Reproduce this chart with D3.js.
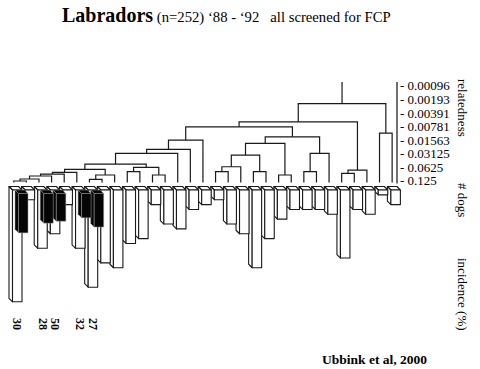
<!DOCTYPE html>
<html>
<head>
<meta charset="utf-8">
<script src="https://cdn.jsdelivr.net/npm/d3@7"></script>
<style>
body { margin: 0; background: #fff; }
svg { display: block; }
text { font-family: "Liberation Serif", "Times New Roman", serif; }
</style>
</head>
<body>
<svg id="chart" width="480" height="369"></svg>
<script>
// one entry per leaf of the tree, left to right
var dogs = [23, 2, 12, 9, 3, 12, 20, 15, 16, 11, 10, 3, 7, 8, 4, 3, 2, 7, 9, 16, 10, 6, 4, 4, 4, 5, 14, 4, 5, 1, 3];
var affected = [8.1, 0, 6.1, 5.7, 0, 5.0, 6.9, 0, 0, 0, 0, 0, 0, 0, 0, 0, 0, 0, 0, 0, 0, 0, 0, 0, 0, 0, 0, 0, 0, 0, 0];
var incidence = [30, null, 28, 50, null, 32, 27];

// tree merges: [left, right, relatedness]; negative = leaf number, positive = earlier merge row
var merges = [
    [-1, -2, 0.127],
    [1, -3, 0.1146],
    [2, -4, 0.0983],
    [3, -5, 0.0888],
    [4, -6, 0.0814],
    [-7, -8, 0.1164],
    [6, -9, 0.0934],
    [5, 7, 0.0698],
    [-10, -11, 0.0789],
    [-12, -13, 0.0934],
    [9, 10, 0.063],
    [8, 11, 0.0533],
    [12, -14, 0.0308],
    [13, -15, 0.0251],
    [14, -16, 0.0156],
    [-17, -18, 0.0789],
    [16, -19, 0.0611],
    [-20, -21, 0.0789],
    [17, 18, 0.0337],
    [-22, -23, 0.0934],
    [19, 20, 0.0185],
    [-24, -25, 0.0789],
    [22, -26, 0.0308],
    [21, 23, 0.0132],
    [15, 24, 0.0079],
    [-27, -28, 0.0856],
    [26, -29, 0.0724],
    [25, 27, 0.0061],
    [-30, -31, 0.0109],
    [28, 29, 0.0024]
];

var relTicks = [0.00096, 0.00193, 0.00391, 0.00781, 0.01563, 0.03125, 0.0625, 0.125];
var relLabels = ["0.00096", "0.00193", "0.00391", "0.00781", "0.01563", "0.03125", "0.0625", "0.125"];

var svg = d3.select("#chart");

var depth = 3.5, barW = 9.5, barTop = 186.5, leafBottom = 182.5;

var x = d3.scaleBand()
    .domain(d3.range(dogs.length))
    .range([7, 398]);

var rel = d3.scaleLog().base(2)
    .domain([0.00096, 0.125])
    .range([85.7, 180.7]);

var len = d3.scaleLinear()
    .domain([0, 25])
    .range([0, 121.5]);

function bx(i) { return x(i) + 2; }
function leafX(i) { return bx(i) + barW / 2; }

// title
var title = svg.append("text")
    .attr("x", 62).attr("y", 22)
    .attr("xml:space", "preserve");
title.append("tspan").attr("font-weight", "bold").attr("font-size", 20).text("Labradors");
title.append("tspan").attr("font-size", 14.7).text(" (n=252) \u201888 - \u201892   all screened for FCP");

// dendrogram
var nodes = [];
var tree = svg.append("g")
    .attr("fill", "none")
    .attr("stroke", "#1a1a1a")
    .attr("stroke-width", 1.2);

merges.forEach(function(m) {
    var kids = [m[0], m[1]].map(function(v) {
        return v < 0 ? {x: leafX(-v - 1), y: leafBottom} : nodes[v - 1];
    });
    var node = {x: (kids[0].x + kids[1].x) / 2, y: rel(m[2])};
    nodes.push(node);
    tree.append("path")
        .attr("d", "M" + kids[0].x + "," + kids[0].y + "V" + node.y + "H" + kids[1].x + "V" + kids[1].y);
});

var root = nodes[nodes.length - 1];
tree.append("path").attr("d", "M" + root.x + "," + root.y + "V82");

// relatedness axis
svg.append("line")
    .attr("x1", 397).attr("x2", 397)
    .attr("y1", 82).attr("y2", 183.5)
    .attr("stroke", "#111").attr("stroke-width", 1.2);

var axis = svg.append("g")
    .attr("transform", "translate(397,0)")
    .call(d3.axisRight(rel)
        .tickValues(relTicks)
        .tickSize(0)
        .tickPadding(3)
        .tickFormat(function(d, i) { return "- " + relLabels[i]; }));
axis.select(".domain").remove();
axis.attr("font-family", null);
axis.selectAll("text")
    .attr("font-size", 13)
    .attr("fill", "#000");

// 3d bars, drawn right to left so the left ones sit in front
function faces(x0, y0, h) {
    return [
        [[x0, y0], [x0 + barW, y0], [x0 + barW + depth, y0 + depth], [x0 + depth, y0 + depth]],
        [[x0, y0], [x0 + depth, y0 + depth], [x0 + depth, y0 + depth + h], [x0, y0 + h]],
        [[x0 + depth, y0 + depth], [x0 + depth + barW, y0 + depth], [x0 + depth + barW, y0 + depth + h], [x0 + depth, y0 + depth + h]]
    ];
}

var order = d3.range(dogs.length).reverse();

var bars = svg.selectAll("g.bar")
    .data(order)
    .enter().append("g")
    .attr("class", "bar");

bars.selectAll("polygon.dogs")
    .data(function(i) { return faces(bx(i), barTop, len(dogs[i])); })
    .enter().append("polygon")
    .attr("class", "dogs")
    .attr("points", function(p) { return p.join(" "); })
    .attr("fill", "#fff")
    .attr("stroke", "#1a1a1a")
    .attr("stroke-width", 1.1)
    .attr("stroke-linejoin", "round");

bars.filter(function(i) { return affected[i] > 0; })
    .selectAll("polygon.sick")
    .data(function(i) { return faces(bx(i) + depth + 2.5, barTop + depth, len(affected[i])); })
    .enter().append("polygon")
    .attr("class", "sick")
    .attr("points", function(p) { return p.join(" "); })
    .attr("fill", "#050505")
    .attr("stroke", "#999")
    .attr("stroke-width", 0.5);

// incidence numbers under the affected litters
svg.selectAll("text.inc")
    .data(incidence.map(function(v, i) { return {v: v, i: i}; }).filter(function(d) { return d.v != null; }))
    .enter().append("text")
    .attr("class", "inc")
    .attr("transform", function(d) { return "translate(" + (bx(d.i) + 8.5) + ",318) rotate(90)"; })
    .attr("dy", "0.35em")
    .attr("font-weight", "bold")
    .attr("font-size", 12)
    .text(function(d) { return d.v; });

// side labels
[["relatedness", 79], ["# dogs", 183], ["incidence (%)", 258]].forEach(function(l) {
    svg.append("text")
        .attr("transform", "translate(463," + l[1] + ") rotate(90)")
        .attr("dy", "0.35em")
        .attr("font-size", 13)
        .text(l[0]);
});

svg.append("text")
    .attr("x", 322).attr("y", 364)
    .attr("font-weight", "bold")
    .attr("font-size", 13.5)
    .text("Ubbink et al, 2000");
</script>
</body>
</html>
